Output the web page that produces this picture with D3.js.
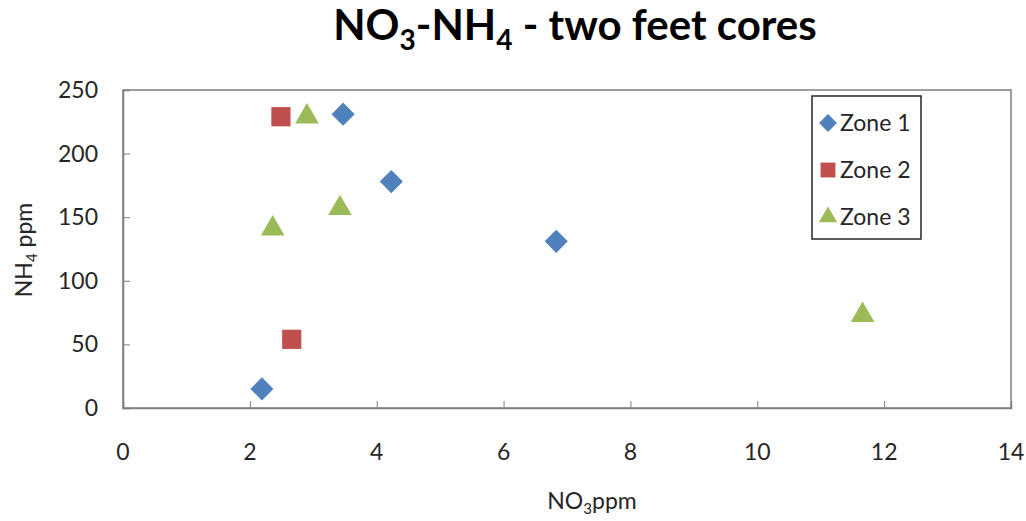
<!DOCTYPE html>
<html>
<head>
<meta charset="utf-8">
<script src="https://cdn.jsdelivr.net/npm/d3@7/dist/d3.min.js"></script>
<style>
  html, body { margin: 0; padding: 0; background: #fff; }
  svg { display: block; font-family: Lato, "Open Sans", sans-serif; }
</style>
</head>
<body>
<svg id="chart" width="1026" height="521"></svg>
<script>
// Soil core measurements (ppm), grouped by zone
const zone1NO3 = [2.19, 3.47, 4.23, 6.83];
const zone1NH4 = [15, 231, 178, 131];
const zone2NO3 = [2.49, 2.66];
const zone2NH4 = [229, 54];
const zone3NO3 = [2.90, 2.36, 3.42, 11.66];
const zone3NH4 = [229, 141, 157, 73];

const seriesNames = ["Zone 1", "Zone 2", "Zone 3"];
const seriesColors = ["#4F81BD", "#C0504D", "#9BBB59"];
const xTicks = [0, 2, 4, 6, 8, 10, 12, 14];
const yTicks = [0, 50, 100, 150, 200, 250];

const series = [
  { name: seriesNames[0], color: seriesColors[0], shape: d3.symbolDiamond2, size: 340, xs: zone1NO3, ys: zone1NH4 },
  { name: seriesNames[1], color: seriesColors[1], shape: d3.symbolSquare2, size: 470, xs: zone2NO3, ys: zone2NH4 },
  { name: seriesNames[2], color: seriesColors[2], shape: d3.symbolTriangle2, size: 400, xs: zone3NO3, ys: zone3NH4 }
];

const svg = d3.select("#chart");
const plot = { left: 123, right: 1011, top: 90, bottom: 408 };

const x = d3.scaleLinear().domain([0, 14]).range([plot.left, plot.right]);
const y = d3.scaleLinear().domain([0, 250]).range([plot.bottom, plot.top]);

// Plot frame
svg.append("rect")
  .attr("x", plot.left).attr("y", plot.top)
  .attr("width", plot.right - plot.left).attr("height", plot.bottom - plot.top)
  .attr("fill", "none").attr("stroke", "#7f7f7f").attr("stroke-width", 1.5);

// Axes with inward ticks
const xAxis = svg.append("g")
  .attr("transform", `translate(0,${plot.bottom})`)
  .call(d3.axisTop(x).tickValues(xTicks).tickSize(7).tickFormat(""));
xAxis.select(".domain").attr("stroke", "#7f7f7f").attr("stroke-width", 1.5);
xAxis.selectAll(".tick line").attr("stroke", "#7f7f7f");

const yAxis = svg.append("g")
  .attr("transform", `translate(${plot.left},0)`)
  .call(d3.axisRight(y).tickValues(yTicks).tickSize(7).tickFormat(""));
yAxis.select(".domain").attr("stroke", "#7f7f7f").attr("stroke-width", 1.5);
yAxis.selectAll(".tick line").attr("stroke", "#7f7f7f");

// Tick labels
svg.append("g").selectAll("text").data(xTicks).join("text")
  .attr("x", d => x(d)).attr("y", 460)
  .attr("text-anchor", "middle")
  .attr("font-size", 23).attr("fill", "#262626")
  .text(d => d);

svg.append("g").selectAll("text").data(yTicks).join("text")
  .attr("x", 98).attr("y", d => y(d) + 8)
  .attr("text-anchor", "end")
  .attr("font-size", 23).attr("fill", "#262626")
  .text(d => d);

// Title
const title = svg.append("text")
  .attr("x", 575).attr("y", 40)
  .attr("text-anchor", "middle")
  .attr("font-size", 42).attr("font-weight", "bold").attr("fill", "#000");
title.append("tspan").text("NO");
title.append("tspan").attr("font-size", 28).attr("dy", 10).text("3");
title.append("tspan").attr("dy", -10).text("-NH");
title.append("tspan").attr("font-size", 28).attr("dy", 10).text("4");
title.append("tspan").attr("dy", -10).text(" - two feet cores");

// Axis titles
const xTitle = svg.append("text")
  .attr("x", 592).attr("y", 509)
  .attr("text-anchor", "middle")
  .attr("font-size", 23).attr("fill", "#262626");
xTitle.append("tspan").text("NO");
xTitle.append("tspan").attr("font-size", 15).attr("dy", 5).text("3");
xTitle.append("tspan").attr("dy", -5).text("ppm");

const yTitle = svg.append("text")
  .attr("transform", "translate(32,250) rotate(-90)")
  .attr("text-anchor", "middle")
  .attr("font-size", 23).attr("fill", "#262626");
yTitle.append("tspan").text("NH");
yTitle.append("tspan").attr("font-size", 15).attr("dy", 5).text("4");
yTitle.append("tspan").attr("dy", -5).text(" ppm");

// Markers
series.forEach(s => {
  const pts = s.xs.map((v, i) => ({ x: v, y: s.ys[i] }));
  svg.append("g").selectAll("path").data(pts).join("path")
    .attr("transform", d => `translate(${x(d.x)},${y(d.y)})`)
    .attr("d", d3.symbol().type(s.shape).size(s.size)())
    .attr("fill", s.color);
});

// Legend
const legend = svg.append("g");
legend.append("rect")
  .attr("x", 812).attr("y", 96).attr("width", 109).attr("height", 143)
  .attr("fill", "#fff").attr("stroke", "#262626").attr("stroke-width", 1.5);
series.forEach((s, i) => {
  const cy = 123 + i * 47;
  legend.append("path")
    .attr("transform", `translate(828,${cy})`)
    .attr("d", d3.symbol().type(s.shape).size(s.size * 0.6)())
    .attr("fill", s.color);
  legend.append("text")
    .attr("x", 840).attr("y", cy + 8)
    .attr("font-size", 23).attr("fill", "#262626")
    .text(s.name);
});
</script>
</body>
</html>
